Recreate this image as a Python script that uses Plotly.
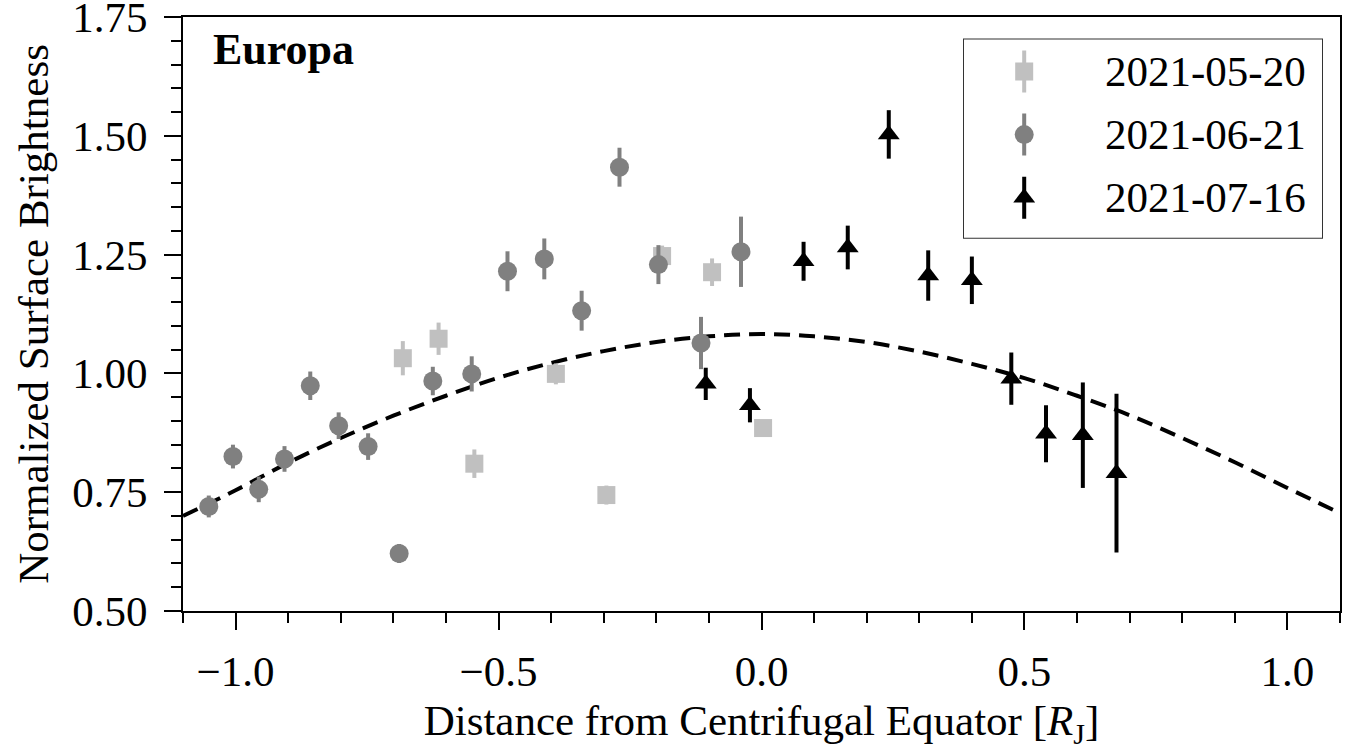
import plotly.graph_objects as go

# 2021-05-20 observations
may_x = [-0.682, -0.614, -0.546, -0.391, -0.295, -0.189, -0.094, 0.003]
may_y = [1.032, 1.073, 0.810, 0.999, 0.744, 1.247, 1.213, 0.885]
may_err = [0.036, 0.034, 0.030, 0.022, 0.020, 0.022, 0.029, 0.017]

# 2021-06-21 observations
jun_x = [-1.051, -1.005, -0.956, -0.907, -0.858, -0.804, -0.748, -0.689, -0.625,
         -0.551, -0.483, -0.413, -0.342, -0.270, -0.196, -0.115, -0.039]
jun_y = [0.720, 0.825, 0.756, 0.820, 0.974, 0.890, 0.846, 0.621, 0.984,
         0.999, 1.215, 1.241, 1.132, 1.434, 1.229, 1.064, 1.256]
jun_err = [0.023, 0.025, 0.027, 0.027, 0.030, 0.028, 0.028, 0.020, 0.030,
           0.037, 0.042, 0.043, 0.042, 0.041, 0.041, 0.055, 0.074]

# 2021-07-16 observations
jul_x = [-0.106, -0.022, 0.080, 0.164, 0.242, 0.317, 0.400, 0.475, 0.541, 0.611, 0.675]
jul_y = [0.978, 0.933, 1.236, 1.265, 1.503, 1.206, 1.196, 0.989, 0.873, 0.870, 0.790]
jul_err = [0.034, 0.036, 0.041, 0.046, 0.051, 0.053, 0.050, 0.055, 0.060, 0.111, 0.167]

# model curve (dashed)
fit_x = [-1.10, -1.00, -0.90, -0.80, -0.70, -0.60, -0.50, -0.40, -0.30, -0.20,
         -0.10, 0.00, 0.10, 0.20, 0.30, 0.40, 0.50, 0.60, 0.70, 0.80, 0.90, 1.00, 1.10]
fit_y = [0.700, 0.754, 0.812, 0.864, 0.911, 0.953, 0.991, 1.022, 1.047, 1.066,
         1.078, 1.083, 1.078, 1.066, 1.046, 1.020, 0.990, 0.953, 0.912, 0.864, 0.813, 0.759, 0.706]

# legend entries
legend_labels = ["2021-05-20", "2021-06-21", "2021-07-16"]

FONT = "Liberation Serif, Times New Roman, serif"
FS = 43

STYLES = [
    dict(color="#c0c0c0", symbol="square", size=18),
    dict(color="#808080", symbol="circle", size=19),
    dict(color="#000000", symbol="triangle-up", size=19),
]

fig = go.Figure()

fig.add_trace(go.Scatter(
    x=fit_x, y=fit_y, mode="lines",
    line=dict(color="black", width=4, dash="16px,9px", shape="spline"),
    showlegend=False, hoverinfo="skip"))

for (x, y, err), st, name in zip(
        [(may_x, may_y, may_err), (jun_x, jun_y, jun_err), (jul_x, jul_y, jul_err)],
        STYLES, legend_labels):
    fig.add_trace(go.Scatter(
        x=x, y=y, mode="markers", name=name, showlegend=False,
        marker=dict(color=st["color"], symbol=st["symbol"], size=st["size"], line=dict(width=0)),
        error_y=dict(type="data", array=err, visible=True, color=st["color"], thickness=4, width=0),
    ))

# legend box drawn on its own small unit axes (x2/y2)
LEG_X = [(963 - 183) / 1157, (1323 - 183) / 1157]
LEG_Y = [(611 - 239) / 593.5, (611 - 39) / 593.5]
key_rows = [0.835, 0.52, 0.205]
key_col = 0.17
key_half = 0.105

for row, st, name in zip(key_rows, STYLES, legend_labels):
    fig.add_trace(go.Scatter(
        x=[key_col], y=[row], xaxis="x2", yaxis="y2", mode="markers",
        showlegend=False, hoverinfo="skip", name=name,
        marker=dict(color=st["color"], symbol=st["symbol"], size=st["size"], line=dict(width=0)),
        error_y=dict(type="constant", value=key_half, visible=True, color=st["color"],
                     thickness=4, width=0),
    ))
    fig.add_annotation(
        text=name, xref="x2", yref="y2", x=0.388, y=row, xanchor="left", yanchor="middle",
        showarrow=False, font=dict(family=FONT, size=FS, color="black"))

fig.add_shape(type="rect", xref="x2", yref="y2", x0=0, x1=1, y0=0, y1=1,
              line=dict(color="#333333", width=2), fillcolor="white", layer="below")

axis_common = dict(
    showline=True, linecolor="black", linewidth=2, mirror=True,
    ticks="outside", ticklen=17, tickwidth=2, tickcolor="black",
    showgrid=False, zeroline=False, ticklabeloverflow="allow", automargin=False,
    tickfont=dict(family=FONT, size=FS, color="black"),
    title_font=dict(family=FONT, size=FS, color="black"),
)

xaxis = dict(
    anchor="y", domain=[0, 1],
    range=[-1.1, 1.1], tick0=0, dtick=0.5, tickformat=".1f",
    minor=dict(dtick=0.1, ticks="outside", ticklen=10, tickwidth=2, tickcolor="black"),
    title=dict(text="Distance from Centrifugal Equator [<i>R</i><sub>J</sub>]", standoff=14,
               font=dict(family=FONT, size=FS, color="black")),
    ticklabelstandoff=4,
    **{k: v for k, v in axis_common.items() if k != "title_font"})
yaxis = dict(
    anchor="x", domain=[0, 1],
    range=[0.5, 1.7501], tick0=0.5, dtick=0.25, tickformat=".2f",
    minor=dict(dtick=0.05, ticks="outside", ticklen=10, tickwidth=2, tickcolor="black"),
    title=dict(text="Normalized Surface Brightness", standoff=10,
               font=dict(family=FONT, size=FS, color="black")),
    ticklabelstandoff=8,
    **{k: v for k, v in axis_common.items() if k != "title_font"})

fig.add_annotation(
    text="<b>Europa</b>", xref="paper", yref="paper", x=0.024, y=0.99,
    xanchor="left", yanchor="top", showarrow=False,
    font=dict(family=FONT, size=FS + 1, color="black"))

fig.update_layout(
    width=1352, height=751,
    margin=dict(l=183, r=12, t=17, b=140, autoexpand=False),
    paper_bgcolor="white", plot_bgcolor="white",
    font=dict(family=FONT, size=FS, color="black"),
    showlegend=False,
    xaxis=xaxis,
    yaxis=yaxis,
    xaxis2=dict(domain=LEG_X, range=[0, 1], anchor="y2", visible=False, fixedrange=True),
    yaxis2=dict(domain=LEG_Y, range=[0, 1], anchor="x2", visible=False, fixedrange=True),
)

fig.write_html("out.html")
